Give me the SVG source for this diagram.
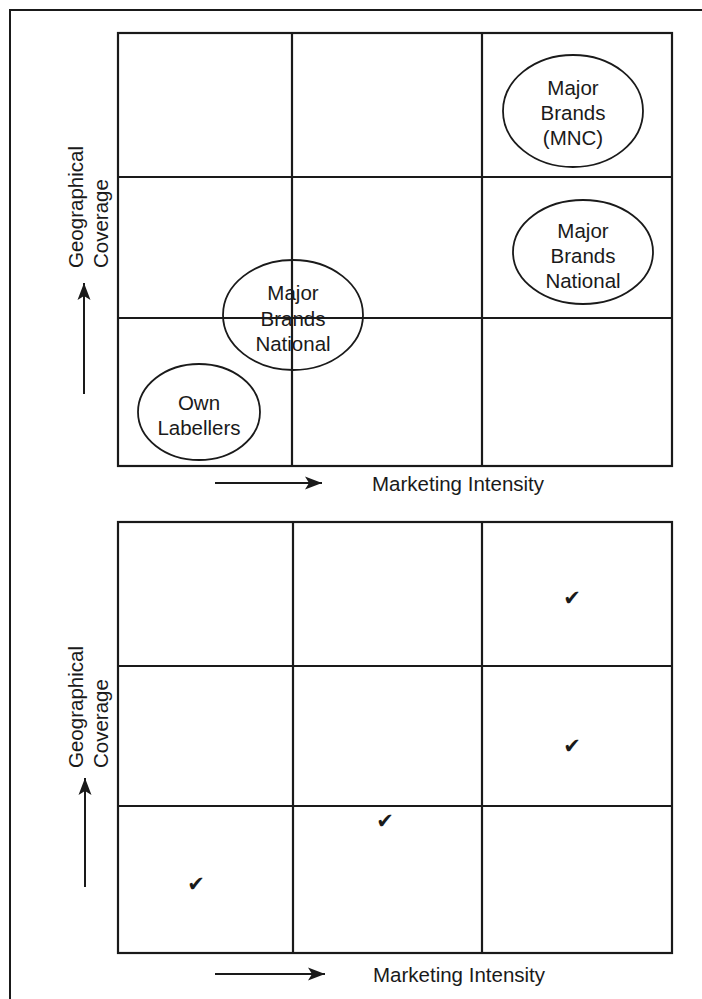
<svg xmlns="http://www.w3.org/2000/svg" width="702" height="999" viewBox="0 0 702 999">
<style>
.bg{fill:#ffffff}
.frame{fill:none;stroke:#1a1a1a;stroke-width:2}
.grid{fill:none;stroke:#1a1a1a;stroke-width:2.2}
.oval{fill:none;stroke:#1a1a1a;stroke-width:1.8}
.lbl{font-family:"Liberation Sans",Arial,sans-serif;font-size:20.5px;fill:#1a1a1a;text-anchor:middle}
.axis{font-family:"Liberation Sans",Arial,sans-serif;font-size:20.5px;fill:#1a1a1a}
.chk{font-family:"DejaVu Sans",sans-serif;font-size:21px;fill:#1a1a1a;text-anchor:middle}
.arr{stroke:#1a1a1a;stroke-width:2;fill:none}
</style>
<defs>
<marker id="ah" markerUnits="userSpaceOnUse" markerWidth="18" markerHeight="14" refX="17" refY="7" orient="auto">
<path d="M0,0.5 L17,7 L0,13.5 L4,7 Z" fill="#1a1a1a"/>
</marker>
</defs>
<rect class="bg" x="0" y="0" width="702" height="999"/>
<path class="frame" d="M10,999 V10 H702"/>

<g id="chart-top">
<rect class="grid" x="118" y="33" width="554" height="433"/>
<path class="grid" d="M292,33 V466 M482,33 V466 M118,177 H672 M118,318 H672"/>
</g>

<g id="node-mnc">
<ellipse class="oval" cx="573" cy="111" rx="70" ry="56"/>
<text class="lbl" x="573" y="94.5">Major</text>
<text class="lbl" x="573" y="119.5">Brands</text>
<text class="lbl" x="573" y="144.5">(MNC)</text>
</g>
<g id="node-national-right">
<ellipse class="oval" cx="583" cy="252" rx="70" ry="52"/>
<text class="lbl" x="583" y="237.5">Major</text>
<text class="lbl" x="583" y="262.5">Brands</text>
<text class="lbl" x="583" y="287.5">National</text>
</g>
<g id="node-national-mid">
<ellipse class="oval" cx="293" cy="315" rx="70" ry="55"/>
<text class="lbl" x="293" y="299.5">Major</text>
<text class="lbl" x="293" y="325.5">Brands</text>
<text class="lbl" x="293" y="350.5">National</text>
</g>
<g id="node-own">
<ellipse class="oval" cx="199" cy="412" rx="61" ry="48"/>
<text class="lbl" x="199" y="409.5">Own</text>
<text class="lbl" x="199" y="434.5">Labellers</text>
</g>

<g id="axis-top">
<text class="axis" transform="translate(82.5,268) rotate(-90)">Geographical</text>
<text class="axis" transform="translate(107.5,268) rotate(-90)">Coverage</text>
<text class="axis" x="372" y="490.5">Marketing Intensity</text>
</g>

<g id="chart-bottom">
<rect class="grid" x="118" y="522" width="554" height="431"/>
<path class="grid" d="M293,522 V953 M482,522 V953 M118,666 H672 M118,806 H672"/>
</g>

<g id="checks">
<text class="chk" x="572" y="605">✔</text>
<text class="chk" x="572" y="753">✔</text>
<text class="chk" x="385" y="828">✔</text>
<text class="chk" x="196" y="891">✔</text>
</g>

<g id="axis-bottom">
<text class="axis" transform="translate(82.5,768) rotate(-90)">Geographical</text>
<text class="axis" transform="translate(107.5,768) rotate(-90)">Coverage</text>
<text class="axis" x="373" y="982">Marketing Intensity</text>
</g>

<g id="connectors">
<line class="arr" x1="84" y1="394" x2="84" y2="283" marker-end="url(#ah)"/>
<line class="arr" x1="215" y1="483" x2="322" y2="483" marker-end="url(#ah)"/>
<line class="arr" x1="85" y1="887" x2="85" y2="778" marker-end="url(#ah)"/>
<line class="arr" x1="215" y1="974" x2="325" y2="974" marker-end="url(#ah)"/>
</g>
</svg>
